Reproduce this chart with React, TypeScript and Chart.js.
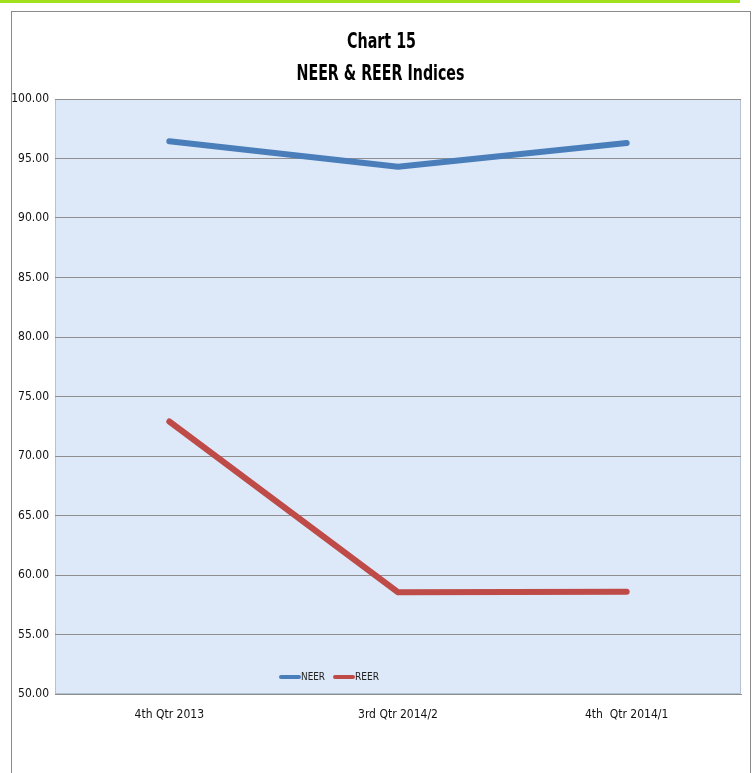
import React, { useEffect, useRef } from "react";
import { Chart, registerables } from "chart.js";

Chart.register(...registerables);

const quarters = ["4th Qtr 2013", "3rd Qtr 2014/2", "4th  Qtr 2014/1"];
const neerValues = [96.45, 94.3, 96.3];
const reerValues = [72.9, 58.55, 58.6];
const titleLines = ["Chart 15", "NEER & REER Indices"];
const seriesNames = ["NEER", "REER"];
const seriesColors = ["#4a7ebb", "#be4b48"];

const FONT = "'DejaVu Sans Condensed', 'Liberation Sans Narrow', sans-serif";

// Draws text squeezed horizontally to a given width, centred on x.
function narrowText(ctx: any, text: string, x: number, y: number, targetWidth: number) {
  const w = ctx.measureText(text).width;
  const k = Math.min(1, targetWidth / w);
  ctx.save();
  ctx.translate(x, y);
  ctx.scale(k, 1);
  ctx.textAlign = "center";
  ctx.fillText(text, 0, 0);
  ctx.restore();
}

// Light blue plot background with a thin frame, and the two-line bold title.
const decorPlugin = {
  id: "decor",
  beforeDraw(chart: any) {
    const { ctx, chartArea: a } = chart;
    ctx.save();
    ctx.fillStyle = "#dde9f8";
    ctx.fillRect(a.left, a.top, a.right - a.left, a.bottom - a.top);
    ctx.strokeStyle = "#b4c2d2";
    ctx.lineWidth = 1;
    ctx.strokeRect(a.left + 0.5, a.top + 0.5, a.right - a.left - 1, a.bottom - a.top - 1);
    ctx.restore();
  },
  afterDraw(chart: any) {
    const { ctx } = chart;
    ctx.save();
    ctx.fillStyle = "#000";
    ctx.textBaseline = "alphabetic";
    ctx.font = `bold 22px ${FONT}`;
    narrowText(ctx, titleLines[0], 381.5, 48, 69);
    narrowText(ctx, titleLines[1], 380.5, 80, 168);
    ctx.restore();
  },
};

// Legend drawn inside the plot area, near its bottom edge.
const innerLegendPlugin = {
  id: "innerLegend",
  afterDatasetsDraw(chart: any) {
    const { ctx, chartArea: a } = chart;
    const y = a.bottom - 17;
    let x = a.left + 224;
    ctx.save();
    ctx.font = `11px ${FONT}`;
    ctx.textBaseline = "middle";
    chart.data.datasets.forEach((ds: any) => {
      ctx.strokeStyle = ds.borderColor;
      ctx.lineWidth = 4;
      ctx.lineCap = "round";
      ctx.beginPath();
      ctx.moveTo(x + 2, y);
      ctx.lineTo(x + 20, y);
      ctx.stroke();
      ctx.fillStyle = "#222";
      const tw = 24;
      narrowText(ctx, ds.label, x + 22 + tw / 2, y, tw);
      x += 22 + tw + 8;
    });
    ctx.restore();
  },
};

export default function App() {
  const canvasRef = useRef<HTMLCanvasElement | null>(null);

  useEffect(() => {
    if (!canvasRef.current) return;
    const chart = new Chart(canvasRef.current, {
      type: "line",
      data: {
        labels: quarters,
        datasets: [
          {
            label: seriesNames[0],
            data: neerValues,
            borderColor: seriesColors[0],
            backgroundColor: seriesColors[0],
            borderWidth: 6,
            borderCapStyle: "round",
            borderJoinStyle: "round",
            pointRadius: 0,
            tension: 0,
          },
          {
            label: seriesNames[1],
            data: reerValues,
            borderColor: seriesColors[1],
            backgroundColor: seriesColors[1],
            borderWidth: 6,
            borderCapStyle: "round",
            borderJoinStyle: "round",
            pointRadius: 0,
            tension: 0,
          },
        ],
      },
      options: {
        animation: false,
        responsive: false,
        maintainAspectRatio: false,
        layout: { padding: { left: 8, top: 99, right: 12, bottom: 39 } },
        plugins: {
          legend: { display: false },
          title: { display: false },
          tooltip: { enabled: false },
        },
        scales: {
          x: {
            offset: true,
            grid: { display: false, drawTicks: false },
            border: { display: true, color: "#8c8c8c", width: 1 },
            ticks: { color: "#111", font: { family: FONT, size: 12 }, padding: 14, maxRotation: 0 },
            afterFit: (s: any) => { s.height = 40; },
          },
          y: {
            min: 50,
            max: 100,
            grid: { color: "#8f8f8f", lineWidth: 1, drawTicks: false },
            border: { display: false },
            ticks: {
              stepSize: 5,
              color: "#111",
              font: { family: FONT, size: 12 },
              padding: 6,
              callback: (v: any) => Number(v).toFixed(2),
            },
            afterFit: (s: any) => { s.width = 47; },
          },
        },
      },
      plugins: [decorPlugin, innerLegendPlugin],
    });
    return () => chart.destroy();
  }, []);

  return (
    <div style={{ position: "fixed", left: 0, top: 0, width: 753, height: 773, background: "#fff", overflow: "hidden" }}>
      <div style={{ position: "absolute", left: 0, top: 0, width: 740, height: 3, background: "#a2df1f" }} />
      <div
        style={{
          position: "absolute",
          left: 11,
          top: 11,
          width: 740,
          height: 780,
          border: "1px solid #8a8a8a",
          boxSizing: "border-box",
        }}
      />
      <canvas ref={canvasRef} width={753} height={773} style={{ position: "absolute", left: 0, top: 0 }} />
    </div>
  );
}
